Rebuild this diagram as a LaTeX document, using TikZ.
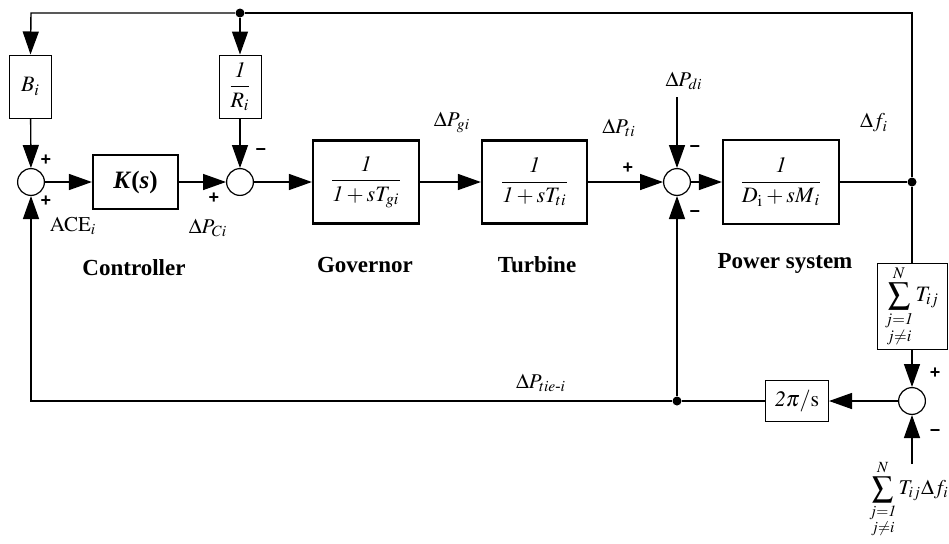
\documentclass[tikz,border=0pt]{standalone}
\usepackage{amsmath}
\usepackage{mathptmx}
\usepackage[no-math]{fontspec}
\setmainfont{Liberation Serif}
\newfontfamily\signfont{Liberation Sans}
\usetikzlibrary{arrows.meta}
\begin{document}
\begin{tikzpicture}[x=0.5pt,y=-0.5pt,
 line width=0.7pt,
 arr/.style={-{Triangle[length=11.5pt,width=8pt]}},
 blk/.style={draw,line width=1.1pt,inner sep=0pt,font=\fontsize{11}{13}\selectfont},
 tbox/.style={draw,line width=0.5pt,inner sep=0pt,font=\fontsize{11}{13}\selectfont},
 sumc/.style={circle,draw,line width=0.6pt,minimum size=13.4pt,inner sep=0pt},
 dotn/.style={circle,fill,minimum size=4.5pt,inner sep=0pt},
 sgn/.style={font=\signfont\bfseries\fontsize{9}{10}\selectfont,inner sep=0pt},
 lbl/.style={font=\fontsize{10.5}{12}\selectfont,inner sep=0pt},
 ttl/.style={font=\bfseries\fontsize{11.5}{13}\selectfont,inner sep=0pt}]
\useasboundingbox (0,0) rectangle (949,543);
% blocks
\node[sumc] (s1) at (31,182) {};
\node[blk,minimum width=42.5pt,minimum height=27pt,font=\bfseries\fontsize{12.5}{14}\selectfont] (K) at (135.5,182) {\textit{K}(\textit{s})};
\node[sumc] (s2) at (240,182) {};
\node[blk,minimum width=53pt,minimum height=41.5pt] (gov) at (366,182) {$\dfrac{\mathit{1}}{\mathit{1}+sT_{gi}}$};
\node[blk,minimum width=52.5pt,minimum height=41.5pt] (turb) at (534.5,182) {$\dfrac{\mathit{1}}{\mathit{1}+sT_{ti}}$};
\node[sumc] (s3) at (677,182) {};
\node[blk,minimum width=58pt,minimum height=42pt] (ps) at (781,182) {$\dfrac{\mathit{1}}{D_{\mathrm{i}}+sM_{\,i}}$};
\node[dotn] (fd) at (912,182) {};
\node[tbox,minimum width=21pt,minimum height=31.5pt] (B) at (30.5,86.5) {$B_i$};
\node[tbox,minimum width=21pt,minimum height=31.5pt] (R) at (240,86.5) {$\dfrac{\mathit{1}}{R_i}$};
\node[dotn] (td) at (240,13) {};
\coordinate (tl) at (31,13);
\coordinate (tr) at (912,13);
\node[tbox,minimum width=35pt,minimum height=43pt] (T) at (912,306) {$\displaystyle\sum_{\substack{j=\mathit{1}\\ j\neq i}}^{N} T_{ij}$};
\node[sumc] (s4) at (912,401) {};
\node[tbox,minimum width=31.5pt,minimum height=20.5pt] (pi) at (797,401) {$\mathit{2}\pi/\mathrm{s}$};
\node[dotn] (tie) at (677,401) {};
\coordinate (bl) at (31,401);
\coordinate (din) at (677,97);
\coordinate (fin) at (912,464);
% connectors
\draw[arr] (td) -- (tl) -- (B.north);
\draw[arr] (td) -- (R);
\draw (td) -- (tr) -- (fd) -- (T);
\draw (ps) -- (fd);
\draw[arr] (B) -- (s1);
\draw[arr] (R) -- (s2);
\draw[arr] (s1) -- (K);
\draw[arr] (K) -- (s2);
\draw[arr] (s2) -- (gov);
\draw[arr] (gov) -- (turb);
\draw[arr] (turb) -- (s3);
\draw[arr] (s3) -- (ps);
\draw[arr] (din) -- (s3);
\draw[arr] (tie) -- (s3);
\draw[arr] (T) -- (s4);
\draw[arr] (fin) -- (s4);
\draw[arr] (s4) -- (pi);
\draw[arr] (pi) -- (tie) -- (bl) -- (s1);
% signs
\node[sgn] at (46,160) {+};
\node[sgn] at (46,201) {+};
\node[sgn] at (214,198) {+};
\node[sgn] at (261,152) {−};
\node[sgn] at (628,168) {+};
\node[sgn] at (695,149) {−};
\node[sgn] at (695,214) {−};
\node[sgn] at (935,373) {+};
\node[sgn] at (935,433) {−};
% labels
\node[lbl] at (73,226) {$\mathrm{ACE}_i$};
\node[lbl] at (208,228) {$\Delta P_{Ci}$};
\node[lbl] at (452,122) {$\Delta P_{gi}$};
\node[lbl] at (619,128) {$\Delta P_{ti}$};
\node[lbl] at (684,81) {$\Delta P_{di}$};
\node[lbl] at (874,123) {$\Delta f_i$};
\node[lbl] at (541,383) {$\Delta P_{tie\text{-}i}$};
\node[lbl] at (909,499) {$\displaystyle\sum_{\substack{j=\mathit{1}\\ j\neq i}}^{N} T_{ij}\Delta f_i$};
\node[ttl] at (134,268) {Controller};
\node[ttl] at (365,265) {Governor};
\node[ttl] at (537,265) {Turbine};
\node[ttl] at (785,263) {Power system};
\end{tikzpicture}
\end{document}
